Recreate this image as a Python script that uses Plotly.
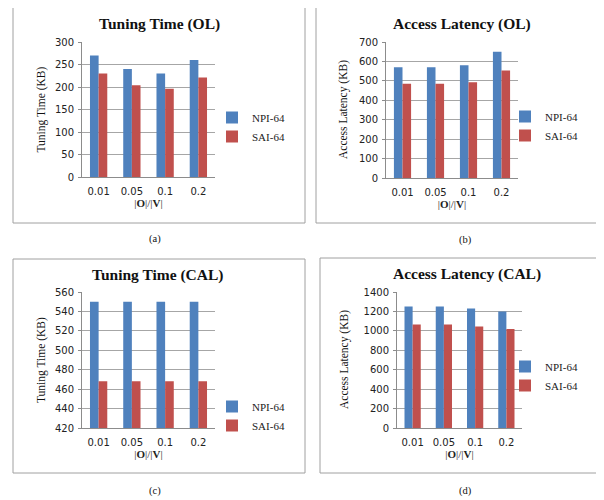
import plotly.graph_objects as go

categories = ["0.01", "0.05", "0.1", "0.2"]
series_names = ["NPI-64", "SAI-64"]

tt_ol_npi = [270, 240, 230, 260]
tt_ol_sai = [230, 204, 196, 221]
al_ol_npi = [570, 570, 580, 650]
al_ol_sai = [485, 485, 493, 553]
tt_cal_npi = [550, 550, 550, 550]
tt_cal_sai = [468, 468, 468, 468]
al_cal_npi = [1250, 1250, 1230, 1200]
al_cal_sai = [1065, 1065, 1045, 1020]

titles = ["Tuning Time (OL)", "Access Latency (OL)", "Tuning Time (CAL)", "Access Latency (CAL)"]
ytitles = ["Tuning Time (KB)", "Access Latency (KB)", "Tuning Time (KB)", "Access Latency (KB)"]
captions = ["(a)", "(b)", "(c)", "(d)"]
yranges = [(0, 300, 50), (0, 700, 100), (420, 560, 20), (0, 1400, 200)]

W, H = 604, 500
OFF = 8  # page body margin of the browser
BLUE = "#4F81BD"
RED = "#C0504D"
SERIF = "Liberation Serif, Times New Roman, serif"
SANS = "DejaVu Sans, Verdana, sans-serif"

def px(x):
    return (x - OFF) / W

def py(y):
    return 1 - (y - OFF) / H

# positions given in page pixels
areas = [(82, 215, 42, 177), (386, 518, 42, 178), (82, 215, 292, 428), (397, 522, 292, 428)]
boxes = [(13, 305, 7, 223), (316, 603, 7, 223), (13, 305, 259, 473), (320, 603, 258, 473)]
title_pos = [(159, 24), (462, 24), (158, 275), (467, 274)]
legend_pos = [(212, 127), (505, 126), (212, 416), (505, 376)]
caption_pos = [(155, 239), (465, 240), (155, 491), (465, 491)]
ytitle_x = [41, 344, 41, 344]

data = [(tt_ol_npi, tt_ol_sai), (al_ol_npi, al_ol_sai), (tt_cal_npi, tt_cal_sai), (al_cal_npi, al_cal_sai)]

fig = go.Figure()
layout = dict(
    width=W, height=H, margin=dict(l=0, r=0, t=0, b=0, autoexpand=False),
    paper_bgcolor="white", plot_bgcolor="white",
    barmode="group", bargap=0.48, bargroupgap=0,
    shapes=[], annotations=[],
)

for i in range(4):
    sfx = "" if i == 0 else str(i + 1)
    xa, ya = "x" + sfx, "y" + sfx
    lg = "legend" + sfx
    for name, vals, col in zip(series_names, data[i], [BLUE, RED]):
        fig.add_trace(go.Bar(x=categories, y=vals, name=name, marker=dict(color=col, line=dict(width=0)),
                             xaxis=xa, yaxis=ya, legend=lg))
    x0, x1, yt, yb = areas[i]
    r0, r1, dt = yranges[i]
    layout["xaxis" + sfx] = dict(
        domain=[px(x0), px(x1)], anchor=ya, type="category",
        showline=True, linecolor="#8c8c8c", linewidth=1,
        ticks="", ticklabelstandoff=5,
        tickfont=dict(family=SANS, size=10, color="#222"),
        title=dict(text="|<b>O</b>|/|<b>V</b>|", font=dict(family=SERIF, size=11, color="#222"), standoff=1),
        fixedrange=True,
    )
    layout["yaxis" + sfx] = dict(
        domain=[py(yb), py(yt)], anchor=xa, range=[r0, r1], dtick=dt,
        showline=True, linecolor="#8c8c8c", linewidth=1,
        showgrid=True, gridcolor="#a6a6a6", gridwidth=1,
        ticks="outside", ticklen=3, tickcolor="#8c8c8c",
        ticklabelstandoff=2,
        tickfont=dict(family=SANS, size=10, color="#222"),
        zeroline=False, fixedrange=True,
    )
    lx, ly = legend_pos[i]
    layout[lg] = dict(
        x=px(lx), y=py(ly), xanchor="left", yanchor="middle",
        font=dict(family=SERIF, size=11, color="#222"),
        bgcolor="rgba(0,0,0,0)", itemwidth=30, tracegroupgap=0,
    )
    bx0, bx1, by0, by1 = boxes[i]
    layout["shapes"].append(dict(type="rect", xref="paper", yref="paper",
                                 x0=px(bx0), x1=px(bx1), y0=py(by1), y1=py(by0),
                                 line=dict(color="#a0a0a0", width=1)))
    tx, ty = title_pos[i]
    layout["annotations"].append(dict(text="<b>" + titles[i] + "</b>", x=px(tx), y=py(ty),
                                      xref="paper", yref="paper", showarrow=False,
                                      xanchor="center", yanchor="middle",
                                      font=dict(family=SERIF, size=15.5, color="#111")))
    layout["annotations"].append(dict(text=ytitles[i], x=px(ytitle_x[i]), y=py((yt + yb) / 2),
                                      xref="paper", yref="paper", showarrow=False, textangle=-90,
                                      xanchor="center", yanchor="middle",
                                      font=dict(family=SERIF, size=11.5, color="#111")))
    cx, cy = caption_pos[i]
    layout["annotations"].append(dict(text=captions[i], x=px(cx), y=py(cy),
                                      xref="paper", yref="paper", showarrow=False,
                                      xanchor="center", yanchor="middle",
                                      font=dict(family=SERIF, size=10.5, color="#111")))

fig.update_layout(**layout)
fig.write_html("out.html")
